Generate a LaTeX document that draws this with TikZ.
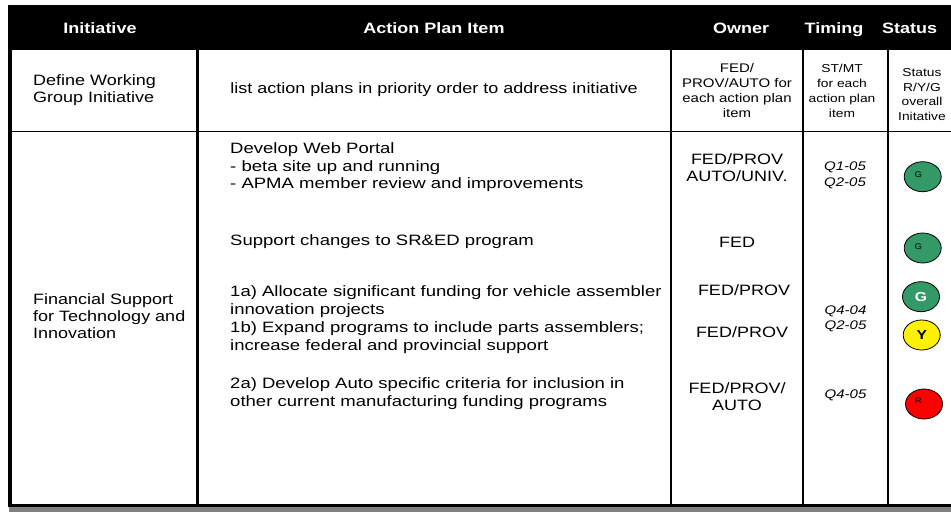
\documentclass[tikz,border=0pt]{standalone}
\usepackage{fontspec}
\setmainfont{Liberation Sans}[FakeStretch=1.2]
\newfontfamily\widefont{Liberation Sans}[FakeStretch=1.235]
\usetikzlibrary{shapes.geometric}
\definecolor{stgreen}{RGB}{51,153,102}
\definecolor{stgray}{RGB}{128,128,128}
\begin{document}
\begin{tikzpicture}[x=1pt,y=-1pt,
  hdr/.style={text=white, font=\fontsize{15}{17}\selectfont\bfseries, inner sep=0pt, anchor=base},
  body/.style={font=\widefont\fontsize{15}{17.5}\selectfont, inner sep=0pt, align=left, anchor=west},
  ctr/.style={font=\fontsize{15}{17}\selectfont, inner sep=0pt, align=center},
  small/.style={font=\fontsize{10.5}{15}\selectfont, inner sep=0pt, align=center},
  timing/.style={font=\fontsize{12.5}{15.5}\selectfont\itshape, inner sep=0pt, align=center},
  light/.style={draw=black, line width=0.8pt, ellipse, minimum width=37pt, minimum height=30pt, inner sep=0pt},
  tiny/.style={font=\fontsize{8}{9}\selectfont, inner sep=0pt},
  big/.style={font=\fontsize{13}{14}\selectfont\bfseries, inner sep=0pt},
  rule/.style={line width=#1}
]
\useasboundingbox (0,0) rectangle (951,512);
% header band
\fill[black] (8,5) rectangle (951,50);
% bottom gray band
\fill[stgray] (9,507) rectangle (951,512);
% grid lines
\draw[rule=3.3pt] (10,48) -- (10,507);
\draw[rule=3pt] (197,48) -- (197,505);
\draw[rule=2.6pt] (671,48) -- (671,505);
\draw[rule=2pt] (803,48) -- (803,505);
\draw[rule=2pt] (888,48) -- (888,505);
\draw[rule=1.2pt] (10,131.5) -- (951,131.5);
\draw[rule=3pt] (8.5,505.5) -- (951,505.5);

% header texts
\node[hdr] (h1) at (100,33) {Initiative};
\node[hdr] (h2) at (434,33) {Action Plan Item};
\node[hdr] (h3) at (741,33) {Owner};
\node[hdr] (h4) at (834,33) {Timing};
\node[hdr, anchor=base west] (h5) at (882,33) {Status};

% row 1
\node[body, font=\fontsize{15}{16.5}\selectfont] (r1a) at (33,90) {Define Working\\Group Initiative};
\node[ctr] (r1b) at (434,90) {list action plans in priority order to address initiative};
\node[small, font=\fontsize{12.5}{15}\selectfont] (r1c) at (737,91) {FED/\\PROV/AUTO for\\each action plan\\item};
\node[small, font=\fontsize{11.5}{15}\selectfont] (r1d) at (842,91) {ST/MT\\for each\\action plan\\item};
\node[small, font=\fontsize{11.5}{14.8}\selectfont] (r1e) at (922,94.5) {Status\\R/Y/G\\overall\\Initative};

% row 2
\node[body, font=\fontsize{15}{17}\selectfont] (r2a) at (33,316) {Financial Support\\for Technology and\\Innovation};
\node[body] (p1) at (230,167.5) {Develop Web Portal\\- beta site up and running\\- APMA member review and improvements};
\node[body] (p2) at (230,241.7) {Support changes to SR\&ED program};
\node[body, font=\widefont\fontsize{15}{18}\selectfont] (p3) at (230,319.5) {1a) Allocate significant funding for vehicle assembler\\innovation projects\\1b) Expand programs to include parts assemblers;\\increase federal and provincial support};
\node[body, font=\widefont\fontsize{15}{18}\selectfont] (p4) at (230,394) {2a) Develop Auto specific criteria for inclusion in\\other current manufacturing funding programs};

\node[ctr] (o1) at (737,168) {FED/PROV\\AUTO/UNIV.};
\node[ctr] (o2) at (737,242) {FED};
\node[ctr] (o3) at (744,290) {FED/PROV};
\node[ctr] (o4) at (742,332) {FED/PROV};
\node[ctr] (o5) at (737,396.5) {FED/PROV/\\AUTO};

\node[timing, font=\fontsize{12.5}{16}\selectfont\itshape] (t1) at (845,175) {Q1-05\\Q2-05};
\node[timing, font=\fontsize{12.5}{15}\selectfont\itshape] (t2) at (845.5,318.5) {Q4-04\\Q2-05};
\node[timing] (t3) at (845.5,395.7) {Q4-05};

% status lights
\node[light, fill=stgreen] (s1) at (922.7,176.7) {};
\node[tiny] (s1t) at ([xshift=-4.3pt,yshift=1.7pt]s1.center) {G};
\node[light, fill=stgreen] (s2) at (922.7,248) {};
\node[tiny] (s2t) at ([xshift=-4.3pt,yshift=1.7pt]s2.center) {G};
\node[light, fill=stgreen] (s3) at (921,296.7) {};
\node[big, text=white] (s3t) at (s3.center) {G};
\node[light, fill=yellow] (s4) at (921.7,335) {};
\node[big] (s4t) at (s4.center) {Y};
\node[light, fill=red] (s5) at (924,404) {};
\node[tiny] (s5t) at ([xshift=-5.7pt,yshift=3pt]s5.center) {R};
\end{tikzpicture}
\end{document}
